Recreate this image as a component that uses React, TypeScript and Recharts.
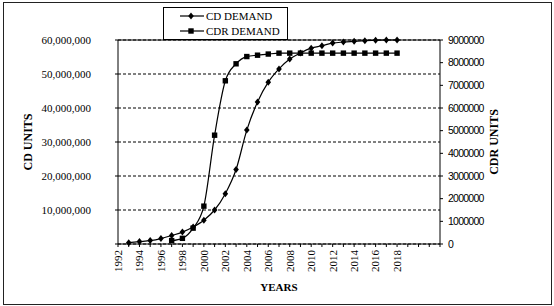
import { LineChart, Line, XAxis, YAxis, CartesianGrid, ReferenceLine, Label } from "recharts";

// values
const years = [
  1993, 1994, 1995, 1996, 1997, 1998, 1999, 2000, 2001, 2002, 2003, 2004, 2005,
  2006, 2007, 2008, 2009, 2010, 2011, 2012, 2013, 2014, 2015, 2016, 2017, 2018,
];
const cdDemand = [
  400000, 700000, 1000000, 1600000, 2500000, 3500000, 5000000, 7000000, 10000000,
  14800000, 21900000, 33500000, 41800000, 47600000, 51500000, 54400000, 56200000,
  57600000, 58300000, 59100000, 59400000, 59600000, 59800000, 59900000, 60000000, 60000000,
];
const cdrDemand = [
  null, null, null, null, 150000, 250000, 700000, 1670000, 4800000, 7200000, 7950000,
  8270000, 8330000, 8380000, 8420000, 8420000, 8420000, 8420000, 8420000, 8420000,
  8420000, 8420000, 8420000, 8420000, 8420000, 8420000,
];

const yearTicks = [
  1992, 1993, 1994, 1995, 1996, 1997, 1998, 1999, 2000, 2001, 2002, 2003, 2004, 2005,
  2006, 2007, 2008, 2009, 2010, 2011, 2012, 2013, 2014, 2015, 2016, 2017, 2018, 2019,
  2020, 2021, 2022,
];
const yearLabels = [
  1992, 1994, 1996, 1998, 2000, 2002, 2004, 2006, 2008, 2010, 2012, 2014, 2016, 2018,
];
const cdTicks = [0, 10000000, 20000000, 30000000, 40000000, 50000000, 60000000];
const cdMinorTicks = [
  0, 2000000, 4000000, 6000000, 8000000, 10000000, 12000000, 14000000, 16000000,
  18000000, 20000000, 22000000, 24000000, 26000000, 28000000, 30000000, 32000000,
  34000000, 36000000, 38000000, 40000000, 42000000, 44000000, 46000000, 48000000,
  50000000, 52000000, 54000000, 56000000, 58000000, 60000000,
];
const cdrTicks = [
  0, 1000000, 2000000, 3000000, 4000000, 5000000, 6000000, 7000000, 8000000, 9000000,
];
const cdrMinorTicks = [
  0, 250000, 500000, 750000, 1000000, 1250000, 1500000, 1750000, 2000000, 2250000,
  2500000, 2750000, 3000000, 3250000, 3500000, 3750000, 4000000, 4250000, 4500000,
  4750000, 5000000, 5250000, 5500000, 5750000, 6000000, 6250000, 6500000, 6750000,
  7000000, 7250000, 7500000, 7750000, 8000000, 8250000, 8500000, 8750000, 9000000,
];

const data = years.map((year, i) => ({ year, cd: cdDemand[i], cdr: cdrDemand[i] }));

const serif = '"Liberation Serif", "Times New Roman", serif';
const narrow = '"Liberation Sans", Arial, sans-serif';

const Diamond = (props: any) => {
  const { cx, cy } = props;
  if (cx == null || cy == null) return <g />;
  return <path d={`M${cx},${cy - 3.5}L${cx + 2.8},${cy}L${cx},${cy + 3.5}L${cx - 2.8},${cy}Z`} fill="#000" />;
};

const Square = (props: any) => {
  const { cx, cy } = props;
  if (cx == null || cy == null) return <g />;
  return <rect x={cx - 2.7} y={cy - 2.7} width={5.4} height={5.4} fill="#000" />;
};

const YearTick = ({ x, y, payload }: any) => {
  if (!yearLabels.includes(payload.value)) return <g />;
  return (
    <text
      x={x}
      y={y}
      dy="0.35em"
      textAnchor="end"
      transform={`rotate(-90, ${x}, ${y})`}
      fontFamily={serif}
      fontSize={11}
      fill="#000"
    >
      {payload.value}
    </text>
  );
};

const fmtCd = (v: number) => (v === 0 ? "" : v.toLocaleString("en-US"));

export default function App() {
  return (
    <div style={{ position: "absolute", left: 0, top: 0, width: 554, height: 306, background: "#fff" }}>
      <div
        style={{
          position: "absolute",
          left: 3,
          top: 2,
          width: 549,
          height: 303,
          border: "1px solid #222",
          boxSizing: "border-box",
        }}
      />
      <LineChart width={554} height={306} data={data} margin={{ top: 40, right: 44, bottom: 12, left: 18 }}>
        <CartesianGrid xAxisId="x" yAxisId="left" vertical={false} stroke="#000" strokeDasharray="3 2" />
        <XAxis
          xAxisId="x"
          dataKey="year"
          type="number"
          domain={[1992, 2022]}
          ticks={yearTicks}
          interval={0}
          height={50}
          stroke="#000"
          tickSize={3}
          tickMargin={3}
          tick={<YearTick />}
        >
          <Label
            content={(p: any) => {
              const vb = p.viewBox || { x: 118, y: 244, width: 322, height: 50 };
              return (
                <text
                  x={vb.x + vb.width / 2}
                  y={vb.y + 47}
                  textAnchor="middle"
                  fontFamily={serif}
                  fontWeight="bold"
                  fontSize={11}
                  fill="#000"
                >
                  YEARS
                </text>
              );
            }}
          />
        </XAxis>
        <XAxis
          xAxisId="xIn"
          type="number"
          domain={[1992, 2022]}
          ticks={yearTicks}
          interval={0}
          mirror
          tick={false}
          axisLine={false}
          tickSize={3}
          stroke="#000"
        />
        <YAxis
          yAxisId="left"
          type="number"
          domain={[0, 60000000]}
          ticks={cdTicks}
          interval={0}
          width={100}
          stroke="#000"
          tickSize={3}
          tickMargin={24}
          tickFormatter={fmtCd}
          tick={{ fontFamily: serif, fontSize: 11, fill: "#000" }}
        >
          <Label
            content={(p: any) => {
              const vb = p.viewBox || { x: 18, y: 40, width: 100, height: 204 };
              const cx = vb.x + 10;
              const cy = vb.y + vb.height / 2;
              return (
                <text
                  x={cx}
                  y={cy}
                  dy="0.35em"
                  textAnchor="middle"
                  transform={`rotate(-90, ${cx}, ${cy})`}
                  fontFamily={serif}
                  fontWeight="bold"
                  fontSize={12}
                  fill="#000"
                >
                  CD UNITS
                </text>
              );
            }}
          />
        </YAxis>
        <YAxis
          yAxisId="leftIn"
          type="number"
          domain={[0, 60000000]}
          ticks={cdTicks}
          interval={0}
          mirror
          tick={false}
          axisLine={false}
          tickSize={3}
          stroke="#000"
        />
        <YAxis
          yAxisId="leftMinor"
          type="number"
          domain={[0, 60000000]}
          ticks={cdMinorTicks}
          interval={0}
          mirror
          tick={false}
          axisLine={false}
          tickSize={-2}
          stroke="#000"
        />
        <YAxis
          yAxisId="right"
          orientation="right"
          type="number"
          domain={[0, 9000000]}
          ticks={cdrTicks}
          interval={0}
          width={70}
          stroke="#000"
          tickSize={3}
          tickMargin={5}
          tick={{ fontFamily: narrow, fontSize: 10.5, letterSpacing: -0.75, fill: "#000" }}
        >
          <Label
            content={(p: any) => {
              const vb = p.viewBox || { x: 440, y: 40, width: 70, height: 204 };
              const cx = vb.x + 54;
              const cy = vb.y + vb.height / 2;
              return (
                <text
                  x={cx}
                  y={cy}
                  dy="0.35em"
                  textAnchor="middle"
                  transform={`rotate(-90, ${cx}, ${cy})`}
                  fontFamily={serif}
                  fontWeight="bold"
                  fontSize={12}
                  fill="#000"
                >
                  CDR UNITS
                </text>
              );
            }}
          />
        </YAxis>
        <YAxis
          yAxisId="rightIn"
          orientation="right"
          type="number"
          domain={[0, 9000000]}
          ticks={cdrTicks}
          interval={0}
          mirror
          tick={false}
          axisLine={false}
          tickSize={3}
          stroke="#000"
        />
        <YAxis
          yAxisId="rightMinor"
          orientation="right"
          type="number"
          domain={[0, 9000000]}
          ticks={cdrMinorTicks}
          interval={0}
          mirror
          tick={false}
          axisLine={false}
          tickSize={-2}
          stroke="#000"
        />
        <ReferenceLine xAxisId="x" yAxisId="left" y={60000000} stroke="#000" />
        <Line
          xAxisId="x"
          yAxisId="left"
          type="monotone"
          dataKey="cd"
          stroke="#000"
          strokeWidth={1.2}
          dot={<Diamond />}
          isAnimationActive={false}
        />
        <Line
          xAxisId="x"
          yAxisId="right"
          type="monotone"
          dataKey="cdr"
          stroke="#000"
          strokeWidth={1.2}
          dot={<Square />}
          isAnimationActive={false}
        />
      </LineChart>
      <div
        style={{
          position: "absolute",
          left: 163,
          top: 7,
          width: 125,
          height: 33,
          border: "1px solid #000",
          boxSizing: "border-box",
          background: "#fff",
          fontFamily: serif,
          fontSize: 11,
          color: "#000",
        }}
      >
        {[
          { name: "CD DEMAND", marker: <Diamond cx={11} cy={6} /> },
          { name: "CDR DEMAND", marker: <Square cx={11} cy={6} /> },
        ].map((item, i) => (
          <div
            key={item.name}
            style={{ position: "absolute", left: 16, top: 2 + i * 15, height: 12, display: "flex", alignItems: "center" }}
          >
            <svg width={24} height={12}>
              <line x1={0} y1={6} x2={24} y2={6} stroke="#000" strokeWidth={1.2} />
              {item.marker}
            </svg>
            <span style={{ marginLeft: 2, lineHeight: "12px" }}>{item.name}</span>
          </div>
        ))}
      </div>
    </div>
  );
}
